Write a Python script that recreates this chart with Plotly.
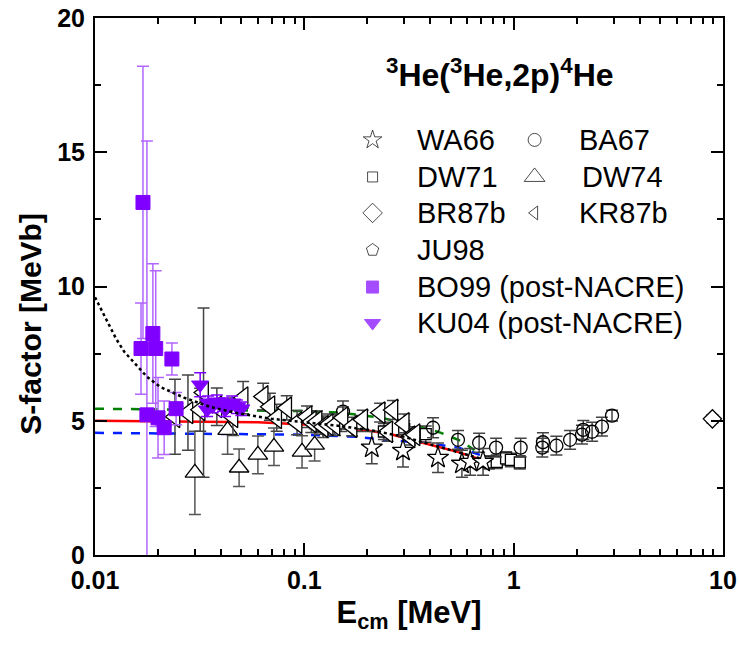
import plotly.graph_objects as go

# ---------------- data ----------------
WA66_E = [0.21, 0.296, 0.435, 0.566, 0.62, 0.714]
WA66_S = [4.0, 3.88, 3.62, 3.4, 3.47, 3.47]
WA66_err = [0.6, 0.6, 0.55, 0.5, 0.5, 0.5]

BA67_E = [0.153, 0.412, 0.542, 0.684, 0.824, 1.08, 1.37, 1.38, 1.6, 1.86, 2.12, 2.15, 2.37, 2.64, 2.95]
BA67_S = [5.34, 4.74, 4.29, 4.18, 4.0, 4.0, 4.0, 4.2, 4.07, 4.29, 4.48, 4.66, 4.59, 4.78, 5.19]
BA67_err = [0.4, 0.37, 0.35, 0.35, 0.35, 0.35, 0.35, 0.35, 0.35, 0.35, 0.35, 0.35, 0.35, 0.35, 0.2]

DW71_E = [0.12, 0.15, 0.185, 0.24, 0.30, 0.38, 0.76, 0.83, 0.92, 0.97, 1.07]
DW71_S = [4.8, 4.9, 4.9, 4.6, 4.7, 4.5, 3.45, 3.47, 3.6, 3.54, 3.45]
DW71_err = [0.3, 0.3, 0.3, 0.3, 0.3, 0.3, 0.25, 0.25, 0.25, 0.25, 0.25]

DW74_E = [0.030, 0.043, 0.0488, 0.060, 0.0716, 0.0975, 0.112]
DW74_S = [3.06, 4.65, 3.25, 3.73, 4.03, 3.84, 4.1]
DW74_err = [1.55, 0.9, 0.7, 0.7, 0.7, 0.6, 0.6]

BR87b_E = [8.9]
BR87b_S = [5.07]
BR87b_err = [0.15]

KR87b_E = [0.0241, 0.0278, 0.0318, 0.033, 0.0382, 0.0456, 0.051, 0.0636, 0.0685, 0.0738,
           0.0824, 0.0923, 0.103, 0.108, 0.115, 0.123, 0.13, 0.14, 0.153, 0.169, 0.19,
           0.23, 0.25, 0.265, 0.30, 0.32, 0.338]
KR87b_S = [5.15, 5.3, 5.41, 6.05, 5.52, 5.15, 5.86, 5.9, 5.52, 5.11,
           5.48, 4.93, 5.15, 4.96, 4.96, 4.78, 4.85, 4.85, 5.11, 4.78, 5.04,
           5.3, 4.59, 5.4, 4.9, 4.4, 4.48]
KR87b_err = [1.4, 1.4, 0.8, 3.15, 0.7, 0.7, 0.6, 0.5, 0.5, 0.5,
             0.45, 0.45, 0.4, 0.4, 0.4, 0.4, 0.4, 0.4, 0.4, 0.35, 0.35,
             0.35, 0.35, 0.35, 0.35, 0.3, 0.3]

JU98_E = [0.0214, 0.0244]
JU98_S = [4.74, 5.45]

BO99_E = [0.01659, 0.01695, 0.0177, 0.0189, 0.0195, 0.0200, 0.0214, 0.0233, 0.0244]
BO99_S = [7.69, 13.13, 5.22, 8.25, 7.69, 5.11, 4.74, 7.3, 5.45]
BO99_err = [1.7, 5.07, 10.2, 2.6, 2.9, 1.5, 1.0, 0.6, 0.6]

KU04_E = [0.0318, 0.0343, 0.0347, 0.0365, 0.0382, 0.0409, 0.0418, 0.0452, 0.0476, 0.050]
KU04_S = [6.34, 5.41, 5.67, 5.55, 5.71, 5.6, 5.41, 5.67, 5.52, 5.45]
KU04_err = [0.45, 0.25, 0.25, 0.25, 0.25, 0.25, 0.25, 0.25, 0.25, 0.25]

RED_E = [0.01, 0.03, 0.06, 0.1, 0.15, 0.217, 0.265, 0.367, 0.45, 0.54, 0.67]
RED_S = [5.0, 4.98, 4.94, 4.86, 4.74, 4.6, 4.48, 4.18, 4.0, 3.84, 3.6]

GREEN_E = [0.01, 0.05, 0.1, 0.15, 0.19, 0.235, 0.29, 0.36, 0.45, 0.57, 0.65]
GREEN_S = [5.45, 5.4, 5.36, 5.3, 5.19, 5.11, 4.93, 4.78, 4.55, 4.22, 3.9]

BLUE_E = [0.01, 0.05, 0.1, 0.18, 0.237, 0.376, 0.55, 0.69]
BLUE_S = [4.55, 4.52, 4.48, 4.4, 4.29, 4.18, 3.99, 3.73]

DOT_E = [0.01, 0.0109, 0.0117, 0.0126, 0.0138, 0.0154, 0.0177, 0.0204, 0.0236, 0.0266,
         0.0354, 0.0466, 0.0702, 0.1, 0.15, 0.217, 0.3, 0.4, 0.54, 0.69]
DOT_S = [9.6, 9.03, 8.58, 8.06, 7.57, 7.16, 6.64, 6.27, 6.04, 5.86,
         5.52, 5.3, 5.07, 4.95, 4.8, 4.62, 4.4, 4.12, 3.84, 3.6]

X_TICKS = [0.01, 0.1, 1, 10]
X_TICK_LABELS = ["0.01", "0.1", "1", "10"]
Y_TICKS = [0, 5, 10, 15, 20]

LEGEND_NAMES = ["WA66", "BA67", "DW71", "DW74", "BR87b", "KR87b", "JU98",
                "BO99 (post-NACRE)", "KU04 (post-NACRE)"]

# ---------------- styling ----------------
PURPLE = "#8000ff"
LPURPLE = "#b066ff"
BOLDF = "Liberation Sans, Arial, sans-serif"
REG = "Liberation Sans, Arial, sans-serif"

fig = go.Figure()

def line(E, S, color, dash, width=2.5):
    fig.add_trace(go.Scatter(x=E, y=S, mode="lines", line=dict(color=color, dash=dash, width=width),
                             showlegend=False, hoverinfo="skip"))

line(GREEN_E, GREEN_S, "#008000", "dash")
line(BLUE_E, BLUE_S, "#0020ff", "dash")
line(RED_E, RED_S, "#ff0000", "solid")

def pts(E, S, err, symbol, size, fill="white", lc="black", ecol="#444", lw=1.3):
    fig.add_trace(go.Scatter(
        x=E, y=S, mode="markers",
        marker=dict(symbol=symbol, size=size, color=fill, line=dict(color=lc, width=lw)),
        error_y=dict(type="data", array=err, visible=True, color=ecol, thickness=1.5, width=6) if err is not None else None,
        showlegend=False))

pts(DW71_E, DW71_S, DW71_err, "square", 11)
pts(BA67_E, BA67_S, BA67_err, "circle", 13, fill="rgba(255,255,255,0)")
pts(WA66_E, WA66_S, WA66_err, "star", 16)
pts(DW74_E, DW74_S, DW74_err, "triangle-up", 17, ecol="#555")
pts(KR87b_E, KR87b_S, KR87b_err, "triangle-left", 19)
pts(BR87b_E, BR87b_S, BR87b_err, "diamond", 14)
pts(JU98_E, JU98_S, None, "pentagon", 14)

fig.add_trace(go.Scatter(
    x=BO99_E, y=BO99_S, mode="markers",
    marker=dict(symbol="square", size=14, color=PURPLE, line=dict(color=PURPLE, width=1)),
    error_y=dict(type="data", array=BO99_err, visible=True, color=LPURPLE, thickness=1.5, width=6),
    showlegend=False))
fig.add_trace(go.Scatter(
    x=KU04_E, y=KU04_S, mode="markers",
    marker=dict(symbol="triangle-down", size=15, color=PURPLE, line=dict(color=PURPLE, width=1)),
    error_y=dict(type="data", array=KU04_err, visible=True, color=PURPLE, thickness=1.5, width=6),
    showlegend=False))

line(DOT_E, DOT_S, "black", "dot", 2.5)

# ---------------- custom legend (overlay axes in plot-fraction units) ----------------
leg_x = [0.442, 0.700, 0.442, 0.700, 0.442, 0.700, 0.442, 0.442, 0.442]
leg_y = [0.773, 0.773, 0.704, 0.704, 0.637, 0.637, 0.568, 0.499, 0.432]
leg_sym = ["star-open", "circle-open", "square-open", "triangle-up-open", "diamond-open",
           "triangle-left-open", "pentagon-open", "square", "triangle-down"]
leg_col = ["black"] * 7 + [PURPLE, PURPLE]
leg_size = [14, 13, 10, 18, 15, 12, 13, 12, 14]
fig.add_trace(go.Scatter(
    x=leg_x, y=leg_y, mode="markers", xaxis="x2", yaxis="y2",
    marker=dict(symbol=leg_sym, size=leg_size, color=leg_col, line=dict(color=leg_col, width=1)),
    showlegend=False, hoverinfo="skip"))
txt_dx = [0.510, 0.768, 0.510, 0.772, 0.510, 0.768, 0.510, 0.510, 0.510]
for name, tx, ty in zip(LEGEND_NAMES, txt_dx, leg_y):
    fig.add_annotation(x=tx, y=ty, xref="paper", yref="paper", text=name, showarrow=False,
                       xanchor="left", yanchor="middle", font=dict(family=REG, size=29, color="black"))

fig.add_annotation(x=0.645, y=0.898, xref="paper", yref="paper",
                   text="<b><sup>3</sup>He(<sup>3</sup>He,2p)<sup>4</sup>He</b>", showarrow=False,
                   xanchor="center", yanchor="middle", font=dict(family=BOLDF, size=32, color="black"))

# y-axis title (as rotated annotation, placed like the reference)
fig.add_annotation(x=-0.104, y=0.43, xref="paper", yref="paper", text="<b>S-factor [MeVb]</b>",
                   textangle=-90, showarrow=False, xanchor="center", yanchor="middle",
                   font=dict(family=BOLDF, size=30, color="black"))

minor_x = [m * 10 ** d for d in (-2, -1, 0) for m in range(2, 10)]

axis_common = dict(showline=True, linecolor="black", linewidth=2, mirror="ticks",
                   ticks="inside", ticklen=12, tickwidth=2, tickcolor="black",
                   showgrid=False, zeroline=False, automargin=False,
                   tickfont=dict(family=BOLDF, size=25, color="black", weight="bold"))

fig.update_layout(
    width=739, height=646,
    margin=dict(l=95, r=16, t=18, b=91),
    plot_bgcolor="white", paper_bgcolor="white",
    xaxis=dict(type="log", range=[-2, 1], tickvals=X_TICKS, ticktext=X_TICK_LABELS,
               minor=dict(tickvals=minor_x, ticks="inside", ticklen=6, tickwidth=1.5, tickcolor="black"),
               title=dict(text="E<sub>cm</sub> [MeV]",
                          font=dict(family=BOLDF, size=31, weight="bold", color="black"),
                          standoff=8),
               ticklabelstandoff=2,
               **axis_common),
    yaxis=dict(range=[0, 20], tickvals=Y_TICKS,
               minor=dict(dtick=2.5, ticks="inside", ticklen=6, tickwidth=1.5, tickcolor="black"),
               ticklabelstandoff=3,
               **axis_common),
    xaxis2=dict(range=[0, 1], domain=[0, 1], overlaying="x", visible=False, fixedrange=True),
    yaxis2=dict(range=[0, 1], domain=[0, 1], overlaying="y", visible=False, fixedrange=True),
    showlegend=False,
)

fig.write_html("out.html")
